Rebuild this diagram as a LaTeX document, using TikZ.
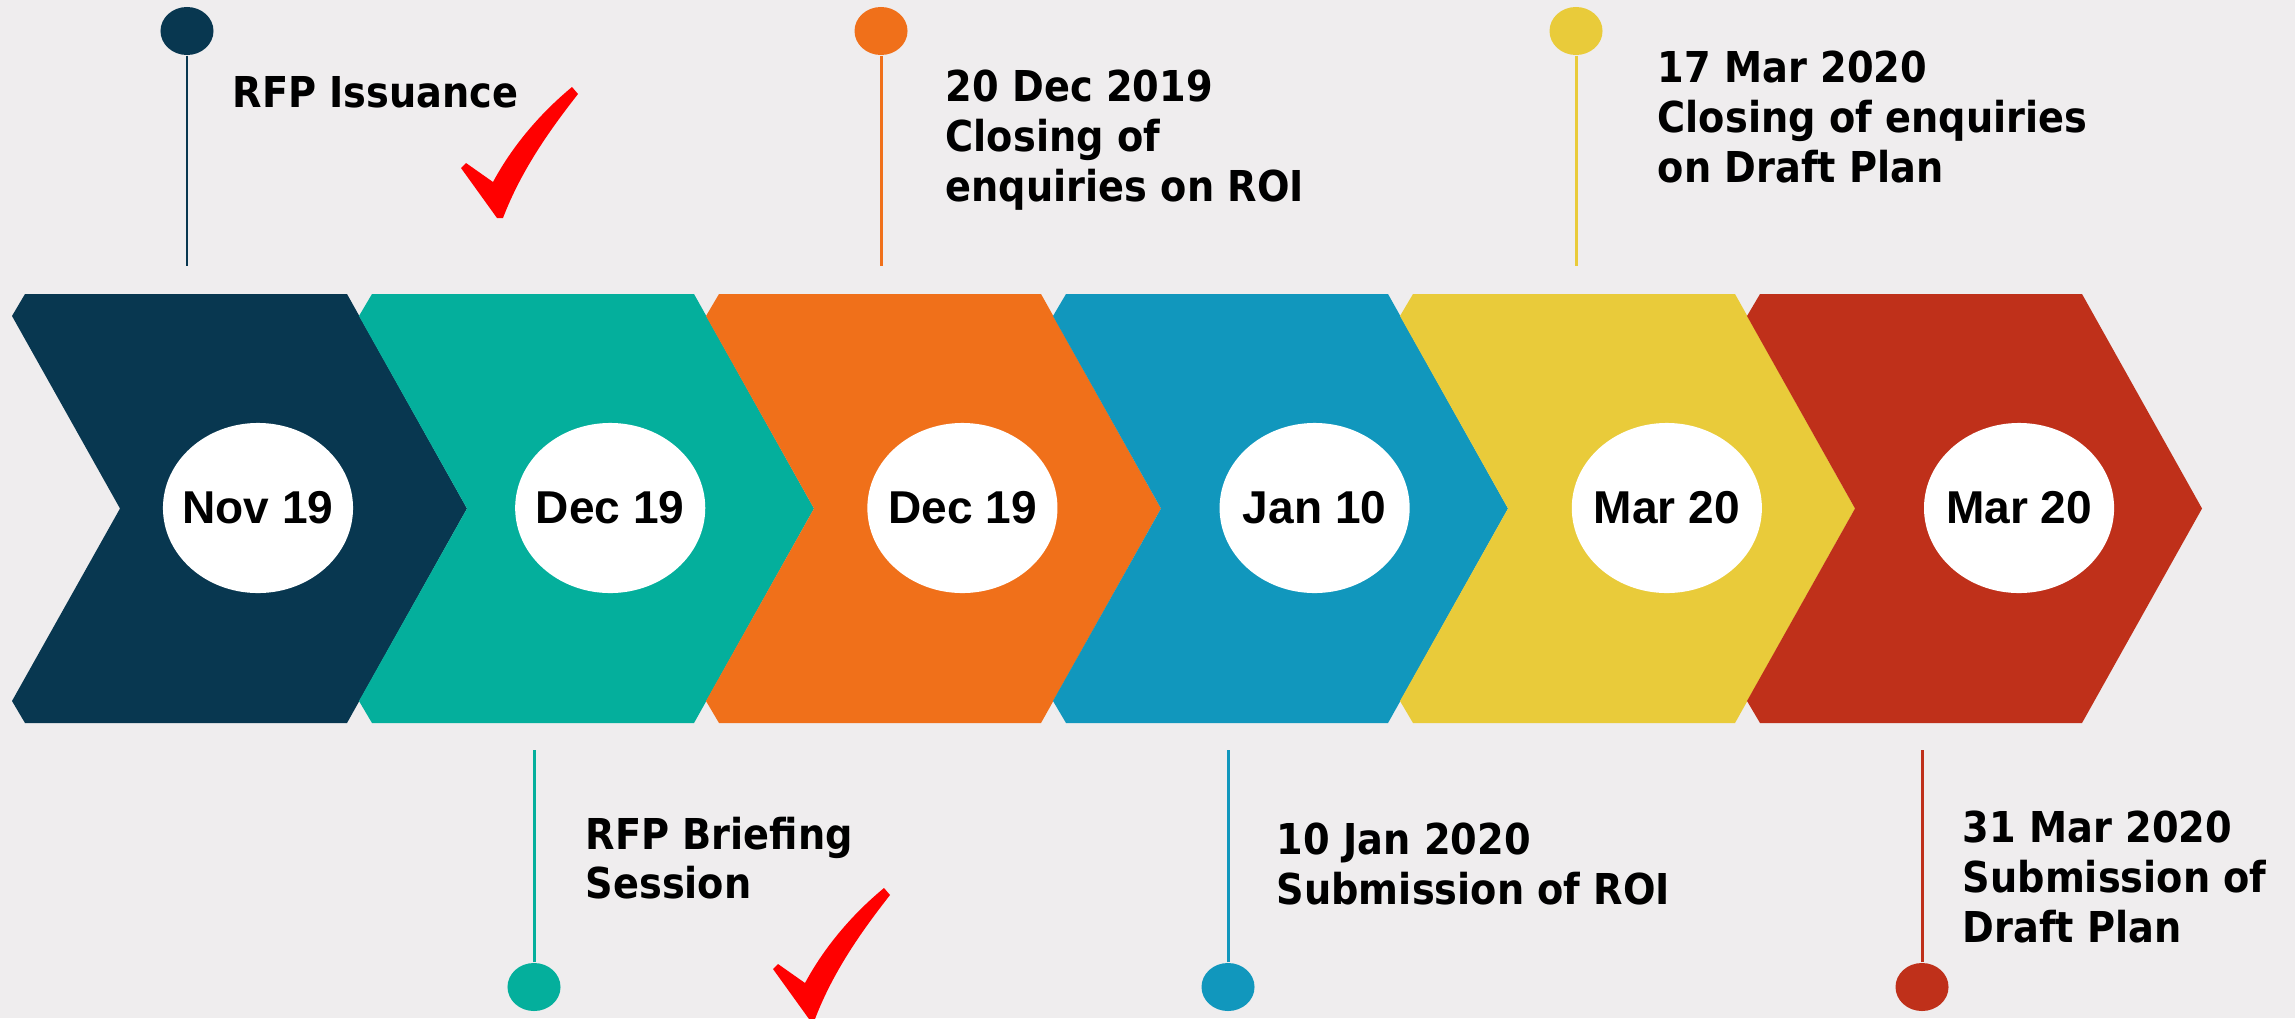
\documentclass[tikz,border=0pt]{standalone}
\usepackage{fontspec}
\usepackage{xcolor}
\usepackage{tikz}
\usetikzlibrary{shapes.geometric}

\newfontfamily\notefont{DejaVu Sans}[FakeStretch=0.9]
\newfontfamily\monthfont{Liberation Sans}
\definecolor{paper}{HTML}{EFEDEE}
\definecolor{navy}{HTML}{083750}
\definecolor{teal}{HTML}{04AF9C}
\definecolor{orange}{HTML}{F0701A}
\definecolor{sky}{HTML}{1197BD}
\definecolor{mustard}{HTML}{E9CB3A}
\definecolor{rust}{HTML}{BF301A}
\definecolor{tick}{HTML}{FF0000}

\begin{document}
\begin{tikzpicture}[x=0.01cm,y=-0.01cm,node distance=3.52cm]
  \tikzstyle{month}=[ellipse,fill=white,minimum width=1.9cm,minimum height=1.7cm,
                     inner xsep=-0.4cm,inner ysep=0pt,
                     font=\monthfont\bfseries\fontsize{13.1}{15}\selectfont]
  \tikzstyle{knob}=[ellipse,minimum width=0.53cm,minimum height=0.48cm,inner sep=0pt]
  \tikzstyle{stick}=[line width=0.85pt]
  \tikzstyle{note}=[anchor=north west,inner sep=0pt,align=left,
                    font=\notefont\bfseries\fontsize{12.1}{14.2}\selectfont]

  \useasboundingbox (0,0) rectangle (2295,1018);
  \fill[paper] (0,0) rectangle (2295,1018);

  % chevrons
  \fill[navy]    (25,294)   -- (347,294)  -- (467,508.5)  -- (347,723)  -- (25,723)   -- (12,701)   -- (120,508.5)  -- (12,316)   -- cycle;
  \fill[teal]    (372,294)  -- (694,294)  -- (814,508.5)  -- (694,723)  -- (372,723)  -- (359,701)  -- (467,508.5)  -- (359,316)  -- cycle;
  \fill[orange]  (719,294)  -- (1041,294) -- (1161,508.5) -- (1041,723) -- (719,723)  -- (706,701)  -- (814,508.5)  -- (706,316)  -- cycle;
  \fill[sky]     (1066,294) -- (1388,294) -- (1508,508.5) -- (1388,723) -- (1066,723) -- (1053,701) -- (1161,508.5) -- (1053,316) -- cycle;
  \fill[mustard] (1413,294) -- (1735,294) -- (1855,508.5) -- (1735,723) -- (1413,723) -- (1400,701) -- (1508,508.5) -- (1400,316) -- cycle;
  \fill[rust]    (1760,294) -- (2082,294) -- (2202,508.5) -- (2082,723) -- (1760,723) -- (1747,701) -- (1855,508.5) -- (1747,316) -- cycle;

  \node[month] (m1) at (258,508) {Nov 19};
  \node[month] (m2) [right of=m1] {Dec 19};
  \node[month] (m3) [right of=m2] {Dec 19};
  \node[month] (m4) [right of=m3] {Jan 10};
  \node[month] (m5) [right of=m4] {Mar 20};
  \node[month] (m6) [right of=m5] {Mar 20};

  % pins above
  \node[knob,fill=navy]    (p1) at (187,31)  {};
  \node[knob,fill=orange]  (p3) at (881,31)  {};
  \node[knob,fill=mustard] (p5) at (1576,31) {};
  \coordinate (s1) at (187,266);
  \coordinate (s3) at (881,266);
  \coordinate (s5) at (1576,266);
  \draw[stick,navy]    (p1) -- (s1);
  \draw[stick,orange]  (p3) -- (s3);
  \draw[stick,mustard] (p5) -- (s5);

  % pins below
  \node[knob,fill=teal] (p2) at (534,987)  {};
  \node[knob,fill=sky]  (p4) at (1228,987) {};
  \node[knob,fill=rust] (p6) at (1922,987) {};
  \coordinate (s2) at (534,750);
  \coordinate (s4) at (1228,750);
  \coordinate (s6) at (1922,750);
  \draw[stick,teal] (p2) -- (s2);
  \draw[stick,sky]  (p4) -- (s4);
  \draw[stick,rust] (p6) -- (s6);

  \node[note] (n1) at (232,76)   {RFP Issuance};
  \node[note] (n3) at (945,69)   {20 Dec 2019\\Closing of\\enquiries on ROI};
  \node[note] (n5) at (1657,50)  {17 Mar 2020\\Closing of enquiries\\on Draft Plan};
  \node[note] (n2) at (585,816)  {RFP Briefing\\Session};
  \node[note] (n4) at (1276,822) {10 Jan 2020\\Submission of ROI};
  \node[note] (n6) at (1962,810) {31 Mar 2020\\Submission of\\Draft Plan};

  % ticks
  \fill[tick] (466,163) -- (493,182) .. controls (514,143) and (543,111) .. (572,87)
              -- (578,94) .. controls (553,126) and (522,168) .. (503,218)
              -- (497,218) -- (461,168) -- cycle;
  \fill[tick,shift={(312,801)}] (466,163) -- (493,182) .. controls (514,143) and (543,111) .. (572,87)
              -- (578,94) .. controls (553,126) and (522,168) .. (503,218)
              -- (497,218) -- (461,168) -- cycle;

\end{tikzpicture}
\end{document}
